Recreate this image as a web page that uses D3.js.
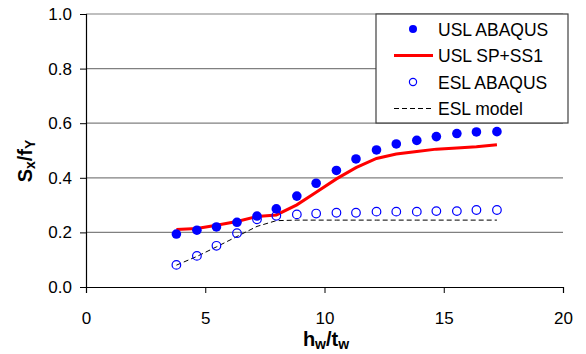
<!DOCTYPE html>
<html>
<head>
<meta charset="utf-8">
<script src="https://cdn.jsdelivr.net/npm/d3@7"></script>
<style>
  body { margin: 0; background: #fff; }
  svg { font-family: "Liberation Sans", Arial, sans-serif; }
</style>
</head>
<body>
<div id="chart"></div>
<script>
// values
const slenderness = [3.79, 4.65, 5.47, 6.33, 7.17, 7.98, 8.84, 9.65, 10.5, 11.32, 12.18, 13.01, 13.87, 14.69, 15.55, 16.37, 17.23];
const uslAbaqus = [0.194, 0.208, 0.220, 0.237, 0.260, 0.286, 0.333, 0.380, 0.427, 0.469, 0.502, 0.524, 0.537, 0.551, 0.562, 0.568, 0.569];
const uslModel = [0.211, 0.214, 0.226, 0.240, 0.258, 0.264, 0.301, 0.347, 0.396, 0.437, 0.471, 0.487, 0.496, 0.505, 0.509, 0.514, 0.521];
const eslAbaqus = [0.081, 0.114, 0.151, 0.197, 0.248, 0.261, 0.266, 0.269, 0.272, 0.272, 0.276, 0.276, 0.276, 0.278, 0.278, 0.282, 0.282];
const eslModel = [0.080, 0.112, 0.147, 0.185, 0.222, 0.243, 0.245, 0.245, 0.245, 0.245, 0.245, 0.245, 0.245, 0.245, 0.245, 0.245, 0.245];
const xTicks = [0, 5, 10, 15, 20];
const yTicks = [0, 0.2, 0.4, 0.6, 0.8, 1.0];
const legendLabels = ["USL ABAQUS", "USL SP+SS1", "ESL ABAQUS", "ESL model"];

const width = 586, height = 354;
const margin = { top: 14, right: 23, bottom: 67, left: 86 };
const w = width - margin.left - margin.right;
const h = height - margin.top - margin.bottom;

const svg = d3.select('#chart')
    .append('svg')
    .attr('width', width)
    .attr('height', height);

const g = svg.append('g')
    .attr('transform', `translate(${margin.left},${margin.top})`);

const x = d3.scaleLinear().domain([0, 20]).range([0, w]);
const y = d3.scaleLinear().domain([0, 1]).range([h, 0]);

// horizontal gridlines
g.append('g')
    .selectAll('line')
    .data(yTicks.slice(1))
    .enter()
    .append('line')
    .attr('x1', 0)
    .attr('x2', w)
    .attr('y1', d => y(d))
    .attr('y2', d => y(d))
    .attr('stroke', '#808080')
    .attr('stroke-width', 1.2);

// axes
const xAxis = g.append('g')
    .attr('transform', `translate(0,${h})`)
    .call(d3.axisBottom(x).tickValues(xTicks).tickSize(6).tickPadding(19).tickFormat(d3.format('d')));
const yAxis = g.append('g')
    .call(d3.axisLeft(y).tickValues(yTicks).tickSize(6).tickPadding(8).tickFormat(d3.format('.1f')));

[xAxis, yAxis].forEach(a => {
    a.select('.domain').attr('stroke', '#000').attr('stroke-width', 1.2);
    a.selectAll('.tick line').attr('stroke', '#000');
    a.selectAll('text')
        .style('font-size', '17px')
        .style('font-family', '"Liberation Sans", Arial, sans-serif')
        .attr('fill', '#000');
});

// series
const line = d3.line()
    .x((d, i) => x(slenderness[i]))
    .y(d => y(d));

g.append('path')
    .datum(eslModel)
    .attr('fill', 'none')
    .attr('stroke', '#000')
    .attr('stroke-width', 1)
    .attr('stroke-dasharray', '5,3')
    .attr('d', line);

g.append('path')
    .datum(uslModel)
    .attr('fill', 'none')
    .attr('stroke', '#ff0000')
    .attr('stroke-width', 3)
    .attr('d', line);

g.selectAll('.esl')
    .data(eslAbaqus)
    .enter()
    .append('circle')
    .attr('class', 'esl')
    .attr('cx', (d, i) => x(slenderness[i]))
    .attr('cy', d => y(d))
    .attr('r', 4.3)
    .attr('fill', 'none')
    .attr('stroke', '#0000ff')
    .attr('stroke-width', 1.2);

g.selectAll('.usl')
    .data(uslAbaqus)
    .enter()
    .append('circle')
    .attr('class', 'usl')
    .attr('cx', (d, i) => x(slenderness[i]))
    .attr('cy', d => y(d))
    .attr('r', 4.8)
    .attr('fill', '#0000ff');

// legend
const lg = svg.append('g').attr('transform', 'translate(376,14)');
lg.append('rect')
    .attr('width', 192)
    .attr('height', 109)
    .attr('fill', '#fff')
    .attr('stroke', '#404040')
    .attr('stroke-width', 1.2);

const rowY = i => 15 + i * 26.5;
const sx = 37;

lg.append('circle').attr('cx', sx).attr('cy', rowY(0)).attr('r', 4).attr('fill', '#0000ff');
lg.append('line').attr('x1', 18).attr('x2', 57).attr('y1', rowY(1)).attr('y2', rowY(1))
    .attr('stroke', '#ff0000').attr('stroke-width', 3);
lg.append('circle').attr('cx', sx).attr('cy', rowY(2)).attr('r', 3.6)
    .attr('fill', 'none').attr('stroke', '#0000ff').attr('stroke-width', 1.2);
lg.append('line').attr('x1', 18).attr('x2', 57).attr('y1', rowY(3)).attr('y2', rowY(3))
    .attr('stroke', '#000').attr('stroke-width', 1).attr('stroke-dasharray', '5,3');

lg.selectAll('.lt')
    .data(legendLabels)
    .enter()
    .append('text')
    .attr('class', 'lt')
    .attr('x', 62)
    .attr('y', (d, i) => rowY(i) + 6.5)
    .style('font-size', '17.5px')
    .text(d => d);

// axis titles
const yt = svg.append('text')
    .attr('transform', 'translate(32,161) rotate(-90)')
    .attr('text-anchor', 'middle')
    .style('font-size', '20px')
    .style('font-weight', 'bold');
yt.append('tspan').text('S');
yt.append('tspan').attr('dy', 3).style('font-size', '14px').text('x');
yt.append('tspan').attr('dy', -3).text('/f');
yt.append('tspan').attr('dy', 3).style('font-size', '14px').text('Y');

const xt = svg.append('text')
    .attr('x', 326)
    .attr('y', 346)
    .attr('text-anchor', 'middle')
    .style('font-size', '20px')
    .style('font-weight', 'bold');
xt.append('tspan').text('h');
xt.append('tspan').attr('dy', 3).style('font-size', '14px').text('w');
xt.append('tspan').attr('dy', -3).text('/t');
xt.append('tspan').attr('dy', 3).style('font-size', '14px').text('w');
</script>
</body>
</html>
